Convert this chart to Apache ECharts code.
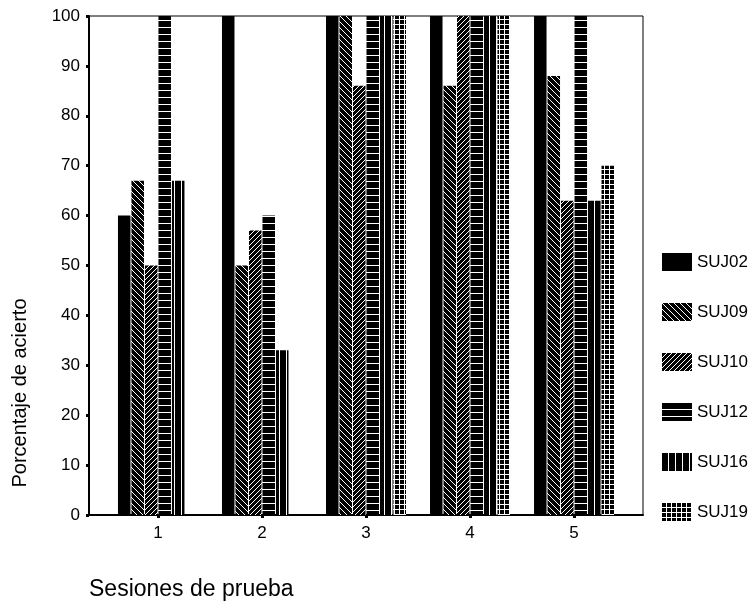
<!DOCTYPE html>
<html>
<head>
<meta charset="utf-8">
<script src="https://cdn.jsdelivr.net/npm/echarts@6/dist/echarts.min.js"></script>
<style>html,body{margin:0;padding:0;background:#fff}#c{width:750px;height:602px}</style>
</head>
<body>
<div id="c"></div>
<script>
// ---- data ----
var sessions = [1, 2, 3, 4, 5];
var seriesNames = ['SUJ02', 'SUJ09', 'SUJ10', 'SUJ12', 'SUJ16', 'SUJ19'];
var SUJ02 = [60, 100, 100, 100, 100];
var SUJ09 = [67, 50, 100, 86, 88];
var SUJ10 = [50, 57, 86, 100, 63];
var SUJ12 = [100, 60, 100, 100, 100];
var SUJ16 = [67, 33, 100, 100, 63];
var SUJ19 = [0, 0, 100, 100, 70];
var yTicks = [0, 10, 20, 30, 40, 50, 60, 70, 80, 90, 100];
var xTitle = 'Sesiones de prueba';
var yTitle = 'Porcentaje de acierto';

// ---- patterns ----
function pattern(kind) {
  var c = document.createElement('canvas');
  var w = 6, h = 6;
  if (kind === 'back') { w = 6; h = 6; }
  if (kind === 'fwd') { w = 5; h = 5; }
  if (kind === 'hor') { w = 4; h = 7; }
  if (kind === 'ver') { w = 7; h = 4; }
  if (kind === 'grid') { w = 5; h = 5; }
  c.width = w; c.height = h;
  var g = c.getContext('2d');
  g.fillStyle = '#000'; g.fillRect(0, 0, w, h);
  g.fillStyle = '#fff';
  if (kind === 'back') {
    for (var i = 0; i < w; i++) { g.fillRect(i, i, 1, 1); }
  } else if (kind === 'fwd') {
    for (var j = 0; j < w; j++) { g.fillRect(j, h - 1 - j, 1, 1); }
  } else if (kind === 'hor') {
    g.fillRect(0, h - 1, w, 1);
  } else if (kind === 'ver') {
    g.fillRect(w - 1, 0, 1, h);
  } else if (kind === 'grid') {
    g.fillRect(0, h - 1, w, 1);
    g.fillRect(w - 1, 0, 1, h);
  }
  return { image: c, repeat: 'repeat' };
}
var fills = ['#000', pattern('back'), pattern('fwd'), pattern('hor'), pattern('ver'), pattern('grid')];
var values = [SUJ02, SUJ09, SUJ10, SUJ12, SUJ16, SUJ19];

var series = seriesNames.map(function (name, k) {
  return {
    name: name,
    type: 'bar',
    barWidth: 12.5,
    barGap: '8%',
    itemStyle: { color: fills[k] },
    data: sessions.map(function (s, i) { return [s, values[k][i]]; })
  };
});

var font = 'Liberation Sans, Arial, sans-serif';
var chart = echarts.init(document.getElementById('c'), null, { renderer: 'canvas' });
chart.setOption({
  animation: false,
  backgroundColor: '#fff',
  grid: { left: 89, top: 16, right: 107, bottom: 87, show: true, borderColor: '#000', borderWidth: 1, backgroundColor: 'transparent' },
  xAxis: {
    type: 'value',
    min: 0.337,
    max: 5.663,
    splitLine: { show: false },
    axisLine: { show: true, lineStyle: { color: '#000', width: 2 } },
    axisTick: { show: true, customValues: sessions, length: 3, lineStyle: { color: '#000', width: 3 } },
    axisLabel: { customValues: sessions, color: '#000', fontSize: 17, fontFamily: font, margin: 10 }
  },
  yAxis: {
    type: 'value',
    min: 0,
    max: 100,
    interval: 10,
    splitLine: { show: false },
    axisLine: { show: true, lineStyle: { color: '#000', width: 2 } },
    axisTick: { show: true, length: 3, lineStyle: { color: '#000', width: 3 } },
    axisLabel: { color: '#000', fontSize: 17, fontFamily: font, margin: 9,
      formatter: function (v) { return yTicks.indexOf(v) >= 0 ? String(v) : ''; } }
  },
  legend: {
    orient: 'vertical',
    left: 657,
    top: 248,
    itemWidth: 30,
    itemHeight: 18,
    itemGap: 32,
    icon: 'rect',
    data: seriesNames,
    textStyle: { color: '#000', fontSize: 17, fontFamily: font, lineHeight: 18 }
  },
  graphic: [
    { type: 'text', x: 20, y: 393, rotation: Math.PI / 2,
      style: { text: yTitle, fill: '#000', font: '20px ' + font, align: 'center', verticalAlign: 'middle' } },
    { type: 'text', x: 89, y: 590,
      style: { text: xTitle, fill: '#000', font: '23px ' + font, align: 'left', verticalAlign: 'middle' } }
  ],
  series: series
});
</script>
</body>
</html>
